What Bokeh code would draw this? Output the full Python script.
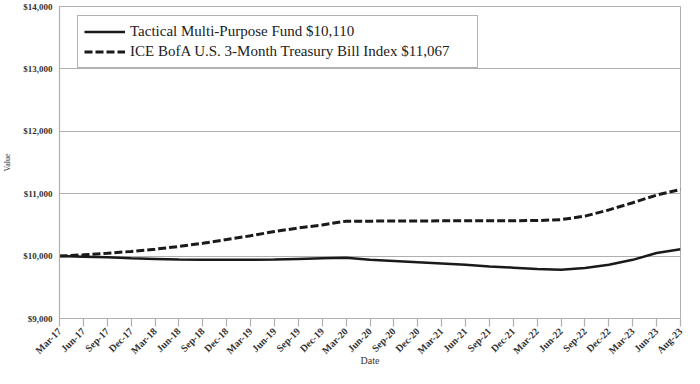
import math
from bokeh.plotting import figure
from bokeh.models import FixedTicker, Range1d, Legend, LegendItem, NumeralTickFormatter
from bokeh.embed import file_html
from bokeh.resources import INLINE

dates = ["Mar-17", "Jun-17", "Sep-17", "Dec-17", "Mar-18", "Jun-18", "Sep-18", "Dec-18",
         "Mar-19", "Jun-19", "Sep-19", "Dec-19", "Mar-20", "Jun-20", "Sep-20", "Dec-20",
         "Mar-21", "Jun-21", "Sep-21", "Dec-21", "Mar-22", "Jun-22", "Sep-22", "Dec-22",
         "Mar-23", "Jun-23", "Aug-23"]
fund = [10000, 9990, 9980, 9965, 9955, 9945, 9940, 9940, 9940, 9945, 9955, 9965, 9975,
        9940, 9920, 9900, 9880, 9860, 9835, 9815, 9795, 9780, 9810, 9860, 9940, 10050, 10110]
index = [10000, 10020, 10045, 10075, 10110, 10155, 10205, 10265, 10325, 10395, 10450, 10500,
         10560, 10560, 10562, 10563, 10565, 10566, 10567, 10568, 10570, 10585, 10640, 10740,
         10855, 10978, 11067]
y_ticks = [9000, 10000, 11000, 12000, 13000, 14000]
fund_label = "Tactical Multi-Purpose Fund $10,110"
index_label = "ICE BofA U.S. 3-Month Treasury Bill Index $11,067"

xs = list(range(len(dates)))
SERIF = "Liberation Serif"
GRAY = "#b0b0b0"

p = figure(width=684, height=368, output_backend="svg", toolbar_location=None,
           x_range=Range1d(0, len(dates) - 1), y_range=Range1d(9000, 14000),
           min_border_left=52, min_border_right=4, min_border_top=6, min_border_bottom=10)

p.outline_line_color = GRAY
p.outline_line_width = 1
p.background_fill_color = "white"
p.border_fill_color = "white"

p.xgrid.grid_line_color = None
p.ygrid.grid_line_color = GRAY
p.ygrid.grid_line_width = 1.2
p.ygrid.ticker = FixedTicker(ticks=y_ticks)

p.xaxis.ticker = FixedTicker(ticks=xs)
p.xaxis.major_label_overrides = {i: d for i, d in enumerate(dates)}
p.xaxis.major_label_orientation = math.pi / 4
p.xaxis.major_label_standoff = 3
p.xaxis.major_tick_out = 8
p.xaxis.major_tick_in = 0
p.xaxis.minor_tick_line_color = None
p.xaxis.axis_label = "Date"
p.xaxis.axis_label_text_font = SERIF
p.xaxis.axis_label_text_font_style = "normal"
p.xaxis.axis_label_text_font_size = "10px"
p.xaxis.axis_label_text_color = "#333333"
p.xaxis.axis_label_standoff = -8

p.yaxis.ticker = FixedTicker(ticks=y_ticks)
p.yaxis.formatter = NumeralTickFormatter(format="$0,0")
p.yaxis.axis_label = "Value"
p.yaxis.axis_label_text_font = SERIF
p.yaxis.axis_label_text_font_style = "normal"
p.yaxis.axis_label_text_font_size = "8px"
p.yaxis.axis_label_text_color = "#333333"
p.yaxis.axis_label_standoff = 8
p.yaxis.major_tick_out = 0
p.yaxis.major_tick_in = 0
p.yaxis.minor_tick_line_color = None
p.yaxis.major_label_standoff = 7

for ax in (p.xaxis, p.yaxis):
    ax.axis_line_color = GRAY
    ax.axis_line_width = 1.2
    ax.major_tick_line_color = GRAY
    ax.major_tick_line_width = 1.2
    ax.major_label_text_font = SERIF
    ax.major_label_text_font_style = "bold"
    ax.major_label_text_color = "#333333"
p.xaxis.major_label_text_font_size = "10px"
p.yaxis.major_label_text_font_size = "9px"

r_fund = p.line(xs, fund, line_color="#1a1a1a", line_width=2.5)
r_index = p.line(xs, index, line_color="#1a1a1a", line_width=3, line_dash="8 3")

legend = Legend(items=[LegendItem(label=fund_label, renderers=[r_fund]),
                       LegendItem(label=index_label, renderers=[r_index])],
                location=(18, 250))
legend.label_text_font = SERIF
legend.label_text_font_size = "15px"
legend.label_text_color = "#222222"
legend.glyph_width = 41
legend.glyph_height = 19
legend.label_height = 19
legend.label_standoff = 5
legend.label_width = 341
legend.spacing = 1
legend.padding = 6
legend.margin = 0
legend.border_line_color = "#666666"
legend.border_line_width = 1.5
legend.background_fill_alpha = 1.0
p.add_layout(legend, "center")

open("out.html", "w").write(file_html(p, INLINE))
